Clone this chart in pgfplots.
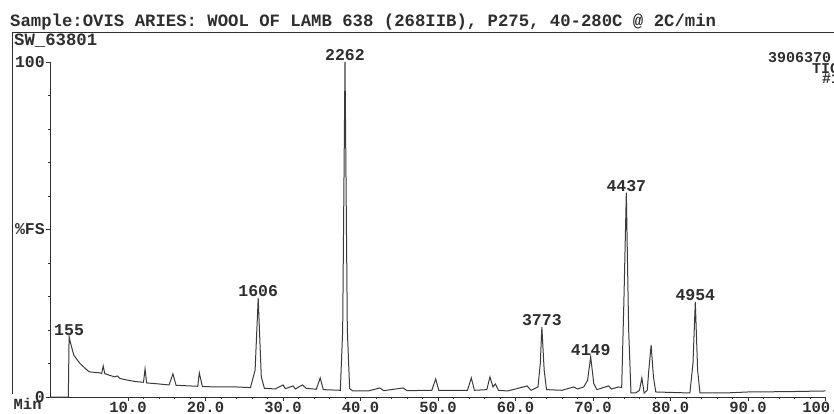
\documentclass[border=0pt]{standalone}
\usepackage{fontspec}
\setmainfont{Liberation Mono}
\usepackage{pgfplots}
\pgfplotsset{compat=1.18}
\definecolor{ink}{HTML}{2E2E2E}
\definecolor{trace}{HTML}{3A3A3A}
\newcommand{\lab}{\fontsize{16.5bp}{17bp}\selectfont\bfseries}
\newcommand{\tck}{\fontsize{15.5bp}{16bp}\selectfont\bfseries}
\newcommand{\ttl}{\fontsize{17.3bp}{18bp}\selectfont\bfseries}
\newcommand{\hdr}{\fontsize{15bp}{15bp}\selectfont\bfseries}
\begin{document}
\begin{tikzpicture}
\useasboundingbox (-50.5bp,-17bp) rectangle (783.5bp,397bp);
\begin{axis}[
  at={(0,0)}, anchor=south west,
  scale only axis, width=775bp, height=335bp,
  xmin=0, xmax=100, ymin=0, ymax=100,
  axis lines=left,
  axis line style={-, ink, line width=0.9bp},
  tick align=outside,
  major tick length=4bp, minor tick length=2.5bp,
  tick style={ink, line width=0.8bp},
  xtick={10,20,...,100},
  xticklabels={10.0,20.0,30.0,40.0,50.0,60.0,70.0,80.0,90.0,100.0},
  minor x tick num=4,
  ytick={0,50,100},
  yticklabels={0,\%FS,100},
  minor ytick={10,20,30,40,60,70,80,90},
  xticklabel style={font=\tck, text=ink, inner sep=0bp, yshift=-0.5bp},
  yticklabel style={font=\lab, text=ink, inner sep=1.5bp},
  clip=false,
]
\addplot[trace, line width=1bp] coordinates {
(0,0) (2.3,0) (2.4,18) (2.6,16) (3.0,12.5) (3.8,10) (4.5,8.5) (5.0,7.5)
(6.4,7.2) (6.6,7.0) (6.8,9.3) (7.0,7.0) (7.6,6.5) (8.3,6.0) (8.6,6.3) (9.0,5.5)
(10.0,5.0) (11.0,4.6) (12.0,4.4) (12.2,8.4) (12.4,4.2) (13.5,4.0) (15.3,3.6)
(15.8,6.9) (16.2,3.5) (18.0,3.3) (19.0,3.2) (19.2,7.2) (19.6,3.1) (22,3.0) (24,3.0)
(25.8,2.8) (26.4,8) (26.8,29.5) (27.2,6) (27.6,2.6) (29,2.4) (30.0,3.6) (30.3,2.5)
(31.3,3.3) (31.6,2.4) (32.5,3.6) (33.0,2.6) (34.3,2.3) (34.8,5.7) (35.2,2.2)
(37.4,2.0) (37.7,20) (38.0,100) (38.3,20) (38.6,2.5) (39,1.8) (41,1.8)
(42.5,2.7) (43,1.9) (45.5,2.7) (46,1.9) (49.2,2.0) (49.7,5.4) (50.1,2.0)
(53.8,2.0) (54.3,5.7) (54.7,2.0) (56.3,2.2) (56.7,6.0) (57.1,3.0) (57.4,3.9)
(57.8,2.0) (59,1.8) (61.5,3.3) (62.0,2.0) (62.9,3) (63.2,10) (63.4,20.9)
(63.7,8) (64.0,2.2) (66,2.0) (67.5,3.0) (68,2.4) (68.8,3.0) (69.3,5) (69.7,12)
(70.1,4) (70.5,2.2) (72,3.3) (72.4,2.4) (73.3,3.0) (73.7,2.8) (74.0,30)
(74.3,61) (74.6,20) (74.9,1.2) (75.5,1.2) (76.0,2) (76.3,5.7) (76.6,1.2)
(77.0,2) (77.2,8) (77.5,15.5) (77.8,6) (78.1,1.5) (82.5,1.2) (82.9,10)
(83.2,28.4) (83.5,8) (83.8,1.2) (87,1.2) (90,1.5) (95,1.6) (100,1.8)
};
\node[anchor=south, inner sep=1bp, font=\lab, text=ink] at (axis cs:2.4,18) {155};
\node[anchor=south, inner sep=1bp, font=\lab, text=ink] at (axis cs:26.8,29.5) {1606};
\node[anchor=south, inner sep=1bp, font=\lab, text=ink] at (axis cs:38.0,100) {2262};
\node[anchor=south, inner sep=1bp, font=\lab, text=ink] at (axis cs:63.4,20.9) {3773};
\node[anchor=south, inner sep=1bp, font=\lab, text=ink] at (axis cs:69.7,12) {4149};
\node[anchor=south, inner sep=1bp, font=\lab, text=ink] at (axis cs:74.3,61) {4437};
\node[anchor=south, inner sep=1bp, font=\lab, text=ink] at (axis cs:83.2,28.4) {4954};
\end{axis}
\draw[ink, line width=0.9bp] (-38.5bp,3bp) -- (-38.5bp,365bp) -- (790bp,365bp);
\node[anchor=base west, inner sep=0pt, font=\ttl, text=ink] at (-40.5bp,370bp) {Sample:OVIS ARIES: WOOL OF LAMB 638 (268IIB), P275, 40-280C @ 2C/min};
\node[anchor=base west, inner sep=0pt, font=\ttl, text=ink] at (-36.5bp,351bp) {SW\_63801};
\node[anchor=north west, inner sep=0pt, font=\tck, text=ink] at (-37bp,-1.5bp) {Min};
\node[anchor=west, inner sep=0pt, font=\hdr, text=ink] at (717.5bp,339bp) {3906370};
\node[anchor=west, inner sep=0pt, font=\hdr, text=ink] at (761.5bp,328.5bp) {TIC};
\node[anchor=west, inner sep=0pt, font=\hdr, text=ink] at (771.5bp,318bp) {\#1};
\end{tikzpicture}
\end{document}
